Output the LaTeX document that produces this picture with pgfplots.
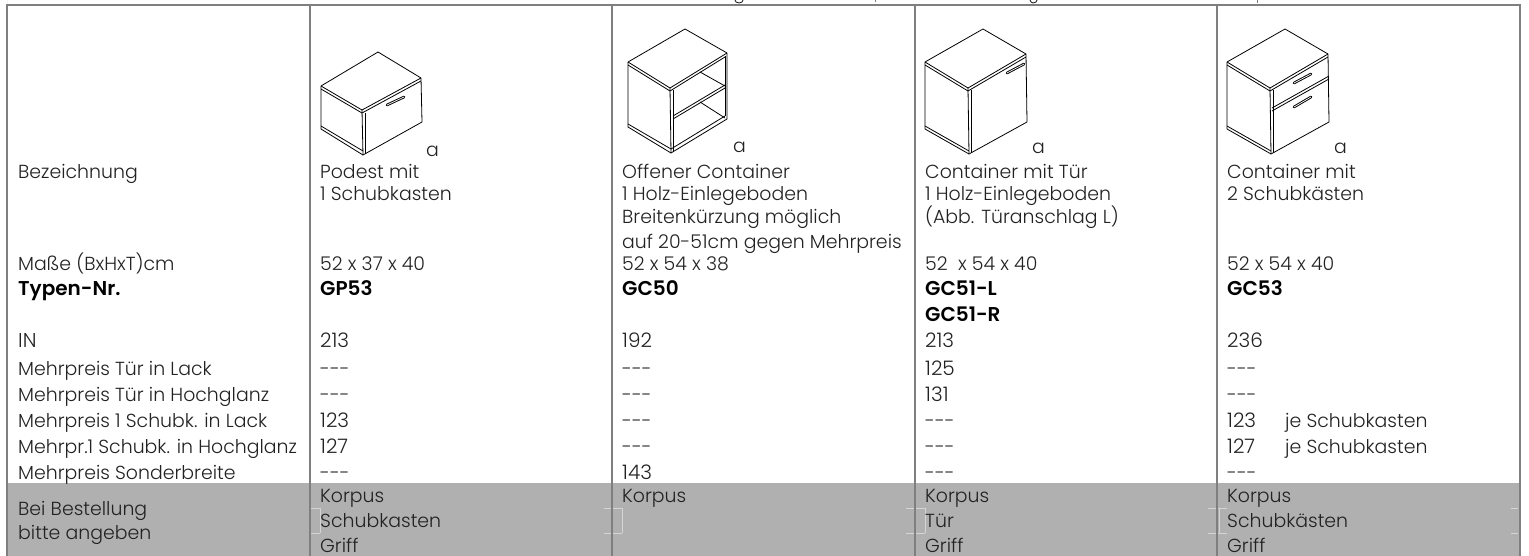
\documentclass[border=0pt]{standalone}
\usepackage{pgfplots}
\pgfplotsset{compat=1.18}
\usepackage{fontspec}
\setmainfont{Poppins}[UprightFont=* Light,BoldFont=* SemiBold]
\definecolor{rulec}{HTML}{7F7F7F}
\definecolor{bandc}{HTML}{B0B0B0}
\definecolor{faintc}{HTML}{D4D4D4}
\definecolor{txtc}{HTML}{222222}
\newcommand{\T}[3]{\node[anchor=base west,inner sep=0pt,text=txtc,font=\fontsize{18.9}{20}\selectfont] at (axis cs:#1,#2) {#3};}
\newcommand{\N}[3]{\node[anchor=base west,inner sep=0pt,text=txtc,font=\fontsize{20}{20}\selectfont] at (axis cs:#1,#2) {#3};}
\newcommand{\B}[3]{\node[anchor=base west,inner sep=0pt,text=black,font=\fontsize{20}{20}\selectfont\bfseries] at (axis cs:#1,#2) {#3};}
\newcommand{\D}[2]{\node[anchor=base west,inner sep=0pt,text=txtc,font=\fontsize{18.9}{20}\selectfont] at (axis cs:#1,#2) {-{}-{}-};}
\newcommand{\R}[1]{\addplot[color=rulec,line width=2pt,forget plot] coordinates {#1};}
\newcommand{\W}[1]{\addplot[color=faintc,line width=0.7pt,forget plot] coordinates {#1};}
\newcommand{\K}[1]{\addplot[color=black,line width=0.8pt,line join=bevel,forget plot] coordinates {#1};}
\newcommand{\Han}[1]{\addplot[color=black,line width=2.6pt,line cap=round,forget plot] coordinates {#1};\addplot[color=white,line width=0.7pt,forget plot] coordinates {#1};}
\begin{document}
\begin{tikzpicture}[x=1pt,y=1pt]
\useasboundingbox (0,0) rectangle (1529,556);
\begin{axis}[at={(0,0)},anchor=south west,width=1529pt,height=556pt,scale only axis,
  xmin=0,xmax=1529,ymin=0,ymax=556,y dir=reverse,hide axis,clip=false]
% grey band
\addplot[fill=bandc,draw=none,forget plot] coordinates {(7,483) (1519,483) (1519,556) (7,556)} \closedcycle;
% faint ticks in the band
\W{(311,508) (320,508)} \W{(311,533) (320,533)}
\W{(604,508) (611,508)} \W{(604,533) (611,533)} \W{(613,508) (622,508)} \W{(613,533) (622,533)}
\W{(906,508) (914,508)} \W{(906,533) (914,533)} \W{(916,508) (925,508)} \W{(916,533) (925,533)}
\W{(1208,508) (1216,508)} \W{(1208,533) (1216,533)} \W{(1218,508) (1227,508)} \W{(1218,533) (1227,533)}
\W{(1511,508) (1518,508)} \W{(1511,533) (1518,533)}
\W{(320,508) (320,533)} \W{(622,508) (622,533)} \W{(925,508) (925,533)} \W{(1219,508) (1219,533)}
% rules
\R{(6,5) (1521,5)}
\R{(7,4) (7,556)} \R{(310,5) (310,556)} \R{(612,5) (612,556)} \R{(915,5) (915,556)} \R{(1217,5) (1217,556)} \R{(1520,4) (1520,556)}
% descenders of the clipped title line
\addplot[color=txtc,line width=0.9pt,forget plot] coordinates {(735,0) (736,2) (739,3) (742,2) (743,0)};
\addplot[color=rulec,line width=0.9pt,forget plot] coordinates {(875,0) (875,2)};
\addplot[color=txtc,line width=0.9pt,forget plot] coordinates {(1030,0) (1031,2) (1033,3) (1036,2) (1037,0)};
\addplot[color=rulec,line width=0.9pt,forget plot] coordinates {(1257,0) (1257,3)};
% GP53
\K{(378,52) (421,78) (362,110) (321,86) (378,52)}
\K{(321,86) (321,129) (363,155) (422,122) (421,78)}
\K{(362,110) (363,155)} \K{(321,89) (362,113) (421,81)} \K{(365,113) (365,154)} \K{(321,126) (363,151)}
\Han{(387,105) (404,97)}
% GC50
\K{(685,29) (727,53) (670,88) (628,62) (685,29)}
\K{(628,62) (628,127) (671,153) (727,119) (727,53)}
\K{(670,88) (671,153)} \K{(628,65) (670,91) (725,57)} \K{(673,90) (673,152)} \K{(628,124) (671,149) (725,116)}
\K{(673,116) (725,85)} \K{(673,119) (725,88)} \K{(700,72) (725,86)} \K{(700,102) (725,118)} \K{(725,56) (725,116)}
% GC51
\K{(983,29) (1026,54) (968,88) (925,62) (983,29)}
\K{(925,62) (925,129) (969,154) (1027,122) (1026,54)}
\K{(968,88) (969,154)} \K{(925,65) (968,91) (1026,57)} \K{(971,90) (971,153)} \K{(925,126) (969,151)}
\Han{(1007,73) (1024,64)}
% GC53
\K{(1285,29) (1328,54) (1270,88) (1227,62) (1285,29)}
\K{(1227,62) (1227,129) (1271,154) (1329,122) (1328,54)}
\K{(1270,88) (1271,154)} \K{(1227,65) (1270,91) (1328,57)} \K{(1273,90) (1273,153)} \K{(1227,126) (1271,151)}
\K{(1272,108) (1329,76)} \K{(1272,111) (1329,79)}
\Han{(1294,83) (1311,74)} \Han{(1294,107) (1311,97)}
% a marks
\T{426}{157}{a} \T{733}{153}{a} \T{1032}{154}{a} \T{1334}{154}{a}
% left column
\T{18}{179}{Bezeichnung}
\T{18}{270}{Maße (BxHxT)cm}
\B{18}{295}{Typen-Nr.}
\N{18}{347}{IN}
\T{18}{375}{Mehrpreis Tür in Lack}
\T{18}{401}{Mehrpreis Tür in Hochglanz}
\T{18}{427}{Mehrpreis 1 Schubk. in Lack}
\T{18}{453}{Mehrpr.1 Schubk. in Hochglanz}
\T{18}{479}{Mehrpreis Sonderbreite}
\T{18}{515}{Bei Bestellung}
\T{18}{539}{bitte angeben}
% column 1
\T{320}{179}{Podest mit} \T{320}{201}{1 Schubkasten} \T{320}{270}{52 x 37 x 40}
\B{320}{295}{GP53} \N{320}{347}{213} \D{320}{375} \D{320}{401}
\N{320}{427}{123} \N{320}{453}{127} \D{320}{479}
\T{320}{502}{Korpus} \T{320}{527}{Schubkasten} \T{320}{552}{Griff}
% column 2
\T{622}{179}{Offener Container} \T{622}{201}{1 Holz-Einlegeboden} \T{622}{224}{Breitenkürzung möglich} \T{622}{248}{auf 20-51cm gegen Mehrpreis}
\T{622}{270}{52 x 54 x 38}
\B{622}{295}{GC50} \N{622}{347}{192} \D{622}{375} \D{622}{401} \D{622}{427} \D{622}{453}
\N{622}{479}{143} \T{622}{502}{Korpus}
% column 3
\T{925}{179}{Container mit Tür} \T{925}{201}{1 Holz-Einlegeboden} \T{925}{224}{(Abb. Türanschlag L)}
\T{925}{270}{52\ \ x 54 x 40}
\B{925}{295}{GC51-L} \B{925}{321}{GC51-R} \N{925}{347}{213} \N{925}{375}{125} \N{925}{401}{131}
\D{925}{427} \D{925}{453} \D{925}{479}
\T{925}{502}{Korpus} \T{925}{527}{Tür} \T{925}{552}{Griff}
% column 4
\T{1227}{179}{Container mit} \T{1227}{201}{2 Schubkästen} \T{1227}{270}{52 x 54 x 40}
\B{1227}{295}{GC53} \N{1227}{347}{236} \D{1227}{375} \D{1227}{401}
\N{1227}{427}{123} \T{1285}{427}{je Schubkasten}
\N{1227}{453}{127} \T{1285}{453}{je Schubkasten}
\D{1227}{479}
\T{1227}{502}{Korpus} \T{1227}{527}{Schubkästen} \T{1227}{552}{Griff}
\end{axis}
\end{tikzpicture}
\end{document}
